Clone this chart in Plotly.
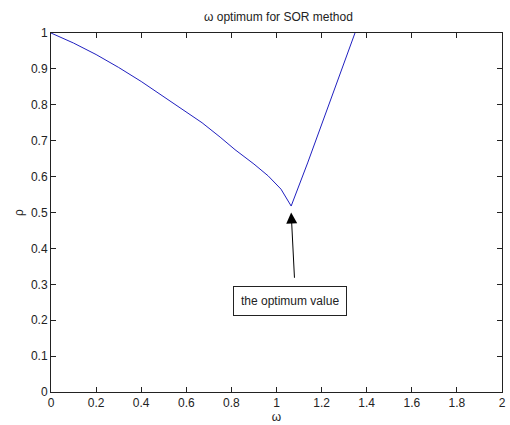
import plotly.graph_objects as go

omega = [0.0, 0.1, 0.2, 0.3, 0.4, 0.5, 0.567, 0.67, 0.75, 0.816, 0.9, 0.963, 1.02, 1.065, 1.138, 1.2075, 1.28, 1.348]
rho = [1.0, 0.972, 0.94, 0.904, 0.865, 0.823, 0.795, 0.75, 0.71, 0.675, 0.635, 0.602, 0.565, 0.518, 0.638, 0.758, 0.879, 1.0]

title = "ω optimum for SOR method"
xlabel = "ω"
ylabel = "ρ"
note = "the optimum value"
x_ticks = [0, 0.2, 0.4, 0.6, 0.8, 1, 1.2, 1.4, 1.6, 1.8, 2]
y_ticks = [0, 0.1, 0.2, 0.3, 0.4, 0.5, 0.6, 0.7, 0.8, 0.9, 1]

font = dict(family="Liberation Sans, Arial, sans-serif", size=12, color="#222")

fig = go.Figure()
fig.add_trace(go.Scatter(x=omega, y=rho, mode="lines",
                         line=dict(color="#2020c0", width=1), showlegend=False,
                         hoverinfo="skip"))

axis_common = dict(showgrid=False, zeroline=False, showline=True, linecolor="#222",
                   linewidth=1, mirror="ticks", ticks="inside", ticklen=5,
                   tickcolor="#222", tickfont=font)
fig.update_xaxes(range=[0, 2], tickvals=x_ticks, ticktext=[str(v) for v in x_ticks],
                 title=dict(text=xlabel, font=font, standoff=2), **axis_common)
fig.update_yaxes(range=[0, 1], tickvals=y_ticks, ticktext=[str(v) for v in y_ticks],
                 title=dict(text=ylabel, font=font, standoff=4), **axis_common)

# arrow
fig.add_annotation(x=1.065, y=0.5, ax=1.08, ay=0.314, axref="x", ayref="y",
                   xref="x", yref="y", text="", showarrow=True,
                   arrowhead=2, arrowsize=2.2, arrowwidth=1, arrowcolor="black")
# text box
fig.add_annotation(x=1.059, y=0.253, xref="x", yref="y", text=note, showarrow=False,
                   bordercolor="#222", borderwidth=1, borderpad=7, bgcolor="white",
                   font=font)

fig.update_layout(
    width=510, height=425,
    margin=dict(l=51, r=4, t=33, b=32),
    paper_bgcolor="white", plot_bgcolor="white",
    title=dict(text=title, x=0.546, xanchor="center", y=0.96, yanchor="middle", font=font),
    font=font,
)
fig.write_html("out.html")
